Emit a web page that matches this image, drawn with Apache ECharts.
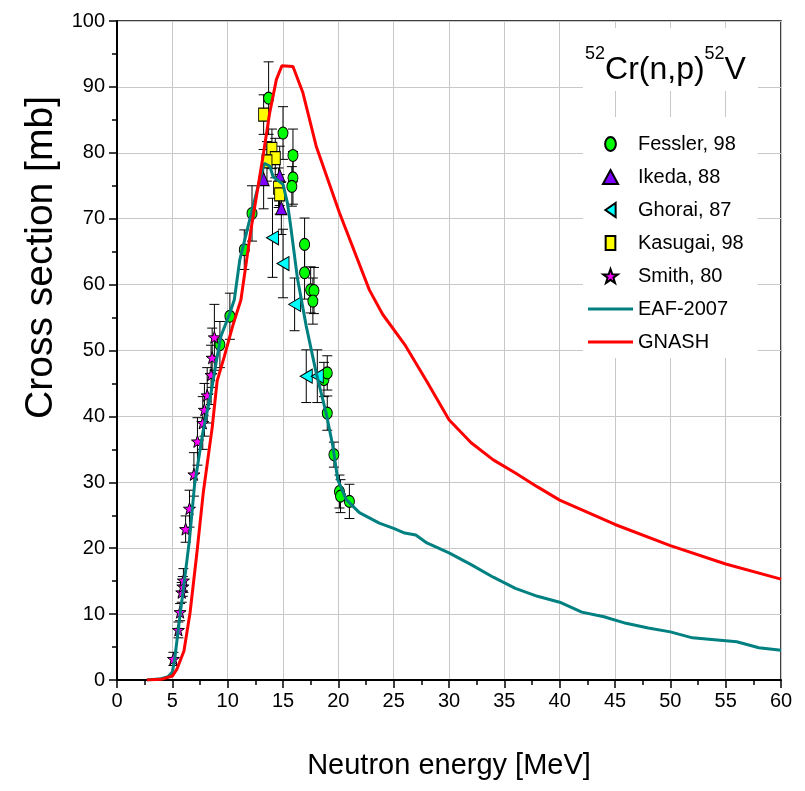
<!DOCTYPE html>
<html><head><meta charset="utf-8">
<script src="https://cdn.jsdelivr.net/npm/echarts@6/dist/echarts.min.js"></script>
<style>html,body{margin:0;padding:0;background:#fff}#c{width:805px;height:791px}</style>
</head><body><div id="c"></div>
<script>
// ---- data: [energy MeV, cross section mb, error mb] ----
const fessler = [[9.3,50.9,3.5],[10.2,55.2,3.5],[11.5,65.3,3],[12.2,70.8,4.2],[13.7,88.3,5.5],[15.0,83.0,4],[15.9,79.6,4],[15.9,76.2,4],[15.8,74.9,3],[16.95,66.1,4],[16.95,61.8,4],[17.5,59.2,3.5],[17.8,59.1,3.5],[17.7,57.5,3.5],[18.7,45.6,2.6],[19.0,46.6,2.6],[19.0,40.5,2.6],[19.6,34.2,1.9],[20.1,28.6,2.5],[20.2,27.9,2.5],[21.0,27.1,2.6]];
const ikeda = [[13.25,76.0,4.5],[14.7,76.5,4.5],[14.85,71.6,4]];
const ghorai = [[14.05,67.1,6],[15.0,63.2,5.2],[16.05,57.0,4],[17.1,46.1,4],[18.1,46.1,4]];
const kasugai = [[13.25,85.8,3],[14.0,80.6,3],[14.3,79.2,3],[13.55,78.7,3],[14.6,74.7,3],[14.7,73.7,3]];
const smith = [[5.1,3.2,1.0],[5.55,7.6,1.2],[5.7,10.3,1.3],[5.85,13.3,1.5],[5.95,14.2,1.5],[6.0,15.1,1.8],[6.2,22.9,2.0],[6.55,26.0,2.8],[6.95,31.2,3.3],[7.27,36.2,3.6],[7.75,39.0,4],[7.9,41.0,4],[8.15,43.2,4.2],[8.5,46.3,4.5],[8.6,48.9,4.5],[8.8,52.0,5]];
const eaf2007 = [[2.7,0],[4.0,0.2],[4.6,0.5],[5.0,1.2],[5.2,3.0],[5.65,9.2],[6.1,15.2],[6.55,21.3],[7.0,29.5],[7.75,37.5],[8.5,43.6],[9.0,48.6],[9.4,52.2],[10.2,55.7],[10.6,57.7],[11.1,63.8],[12.0,69.9],[12.9,75.9],[13.3,78.4],[13.8,78.0],[14.1,76.4],[15.0,75.2],[15.4,72.4],[15.7,68.8],[16.3,61.0],[17.1,53.7],[18.0,46.6],[18.9,40.5],[19.5,35.5],[19.95,30.4],[20.7,27.4],[21.9,25.4],[23.7,23.8],[25,23.0],[26,22.3],[27,22.0],[28,20.8],[30,19.3],[32,17.5],[34,15.6],[36,13.9],[38,12.7],[40,11.8],[42,10.3],[44,9.6],[46,8.6],[48,7.9],[50,7.3],[52,6.4],[54,6.1],[56,5.8],[58,4.9],[60,4.5]];
const gnash = [[2.7,0],[4.0,0.1],[5.0,0.6],[5.4,1.6],[6.05,4.4],[6.6,10.2],[7.2,19.0],[7.8,28.5],[8.6,38.3],[9.05,45.4],[9.7,49.1],[10.45,53.7],[11.2,57.7],[12.1,68.3],[13.2,79.5],[13.8,86.1],[14.4,91.1],[14.9,93.2],[15.9,93.1],[16.8,89.1],[18.0,81.0],[20.1,70.9],[22.8,59.2],[24,55.5],[26,50.9],[28,45.3],[30,39.5],[32,36.0],[34,33.4],[36,31.4],[38,29.3],[40,27.3],[45,23.6],[50,20.4],[55,17.6],[60,15.3]];
const seriesNames = ['Fessler, 98','Ikeda, 88','Ghorai, 87','Kasugai, 98','Smith, 80','EAF-2007','GNASH'];

const FONT = "'Liberation Sans', Arial, sans-serif";

const ELL = 'path://M5,0A5,5,0,1,1,5,10A5,5,0,1,1,5,0Z';
const TRI_UP = 'path://M5,0L10,10L0,10Z';
const TRI_LEFT = 'path://M0,5L10,0L10,10Z';
const SQ = 'path://M0,0L10,0L10,10L0,10Z';
const STAR = 'path://M10,0L12.35,6.76L19.51,6.91L13.8,11.24L15.88,18.09L10,14L4.12,18.09L6.2,11.24L0.49,6.91L7.65,6.76Z';
const LINE_ICON = 'path://M0,0L45,0L45,3L0,3Z';

function errRender(params, api){
  const x = api.value(0), y = api.value(1), e = api.value(2);
  const t = api.coord([x, y + e]), b = api.coord([x, y - e]);
  const hw = 5, st = {stroke:'#000', lineWidth:1};
  return {type:'group', children:[
    {type:'line', shape:{x1:t[0],y1:t[1],x2:b[0],y2:b[1]}, style:st},
    {type:'line', shape:{x1:t[0]-hw,y1:t[1],x2:t[0]+hw,y2:t[1]}, style:st},
    {type:'line', shape:{x1:b[0]-hw,y1:b[1],x2:b[0]+hw,y2:b[1]}, style:st}
  ]};
}
function errSeries(data){
  return {type:'custom', renderItem: errRender, data: data, encode:{x:0,y:1}, z:2, silent:true};
}
function scat(name, data, symbol, size, color){
  return {name:name, type:'scatter', data:data.map(d=>[d[0],d[1]]), symbol:symbol, symbolSize:size,
    itemStyle:{color:color, borderColor:'#000', borderWidth:1, opacity:1}, z:3};
}

const chart = echarts.init(document.getElementById('c'), null, {renderer:'canvas'});
chart.setOption({
  backgroundColor:'#fff',
  animation:false,
  grid:{left:117, right:24, top:21, bottom:111, show:true, borderColor:'#000', borderWidth:1.5, backgroundColor:'#fff'},
  title:{
    text:'{s|52}{m|Cr(n,p)}{s|52}{m|V}',
    left:583, top:28, padding:[17,12,5,2], backgroundColor:'#fff',
    textStyle:{fontWeight:'normal', rich:{
      s:{fontSize:18, fontFamily:FONT, fontWeight:'normal', color:'#000', lineHeight:18, verticalAlign:'top'},
      m:{fontSize:32, fontFamily:FONT, fontWeight:'normal', color:'#000', lineHeight:50}
    }}
  },
  legend:{
    orient:'vertical', left:583, top:117, padding:[15,14,4,5], backgroundColor:'#fff',
    itemWidth:45, itemHeight:14, itemGap:9,
    textStyle:{fontSize:20, fontFamily:FONT, color:'#000', lineHeight:24},
    data:[
      {name:seriesNames[0], icon:'path://M5,0A5,6.5,0,1,1,5,13A5,6.5,0,1,1,5,0Z'},
      {name:seriesNames[1], icon:'path://M7,0L14,13L0,13Z'},
      {name:seriesNames[2], icon:'path://M0,7.5L11,0L11,15Z'},
      {name:seriesNames[3], icon:'path://M0,0L9,0L9,13L0,13Z'},
      {name:seriesNames[4], icon:STAR},
      {name:seriesNames[5], icon:LINE_ICON},
      {name:seriesNames[6], icon:LINE_ICON}
    ]
  },
  xAxis:{
    type:'value', min:0, max:60, interval:5,
    name:'Neutron energy [MeV]', nameLocation:'middle', nameGap:71,
    nameTextStyle:{fontSize:29, fontFamily:FONT, color:'#000'},
    axisLine:{show:true, onZero:false, lineStyle:{color:'#000', width:2}},
    axisTick:{show:true, inside:false, length:8, lineStyle:{color:'#000', width:1.5}},
    minorTick:{show:true, splitNumber:2, length:5, lineStyle:{color:'#000', width:1.5}},
    axisLabel:{fontSize:20, fontFamily:FONT, color:'#000', margin:11},
    splitLine:{show:true, lineStyle:{color:'#c8c8c8', width:1}}
  },
  yAxis:{
    type:'value', min:0, max:100, interval:10,
    name:'Cross section [mb]', nameLocation:'middle', nameGap:54, nameRotate:90,
    nameTextStyle:{fontSize:39, fontFamily:FONT, color:'#000', padding:[0,0,0,186]},
    axisLine:{show:true, onZero:false, lineStyle:{color:'#000', width:2}},
    axisTick:{show:true, inside:false, length:8, lineStyle:{color:'#000', width:1.5}},
    minorTick:{show:true, splitNumber:2, length:5, lineStyle:{color:'#000', width:1.5}},
    axisLabel:{fontSize:20, fontFamily:FONT, color:'#000', margin:12},
    splitLine:{show:true, lineStyle:{color:'#c8c8c8', width:1}}
  },
  series:[
    errSeries(fessler), errSeries(ikeda), errSeries(ghorai), errSeries(kasugai), errSeries(smith),
    scat(seriesNames[0], fessler, ELL, [10,12], '#00ff00'),
    scat(seriesNames[1], ikeda, TRI_UP, [11,13], '#7f00ff'),
    scat(seriesNames[2], ghorai, TRI_LEFT, [12,14], '#00ffff'),
    scat(seriesNames[3], kasugai, SQ, [10,13], '#ffff00'),
    scat(seriesNames[4], smith, STAR, [12,12], '#ff00ff'),
    {name:seriesNames[5], type:'line', data:eaf2007, symbol:'none', showSymbol:false, smooth:false,
      lineStyle:{color:'#008080', width:3}, itemStyle:{color:'#008080'}, z:4},
    {name:seriesNames[6], type:'line', data:gnash, symbol:'none', showSymbol:false, smooth:false,
      lineStyle:{color:'#ff0000', width:3}, itemStyle:{color:'#ff0000'}, z:4}
  ]
});
</script></body></html>
